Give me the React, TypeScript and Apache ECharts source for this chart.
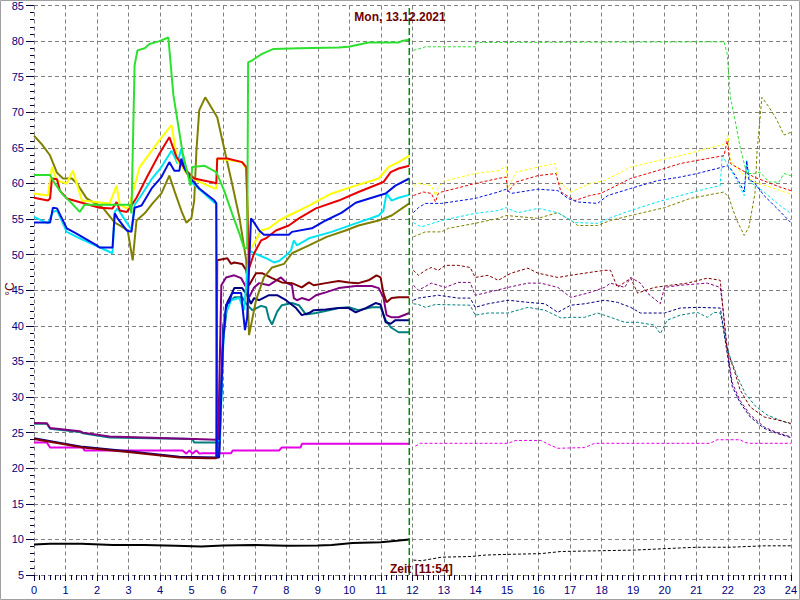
import React, { useEffect, useRef } from "react";
import * as echarts from "echarts";

type P = [number, number];

const chartTitle = "Mon, 13.12.2021";
const timeLabel = "Zeit [11:54]";
const unitLabel = "°C";
const nowHour = 11.9;
const yMin = 5;
const yMax = 85;
const xMin = 0;
const xMax = 24;

// ---- today (solid, 0 .. 11:54) ----
const greenToday: P[] = [[0,61.2],[0.51,61.2],[0.66,60],[0.9,58.5],[1.2,57.2],[1.45,56],[1.6,57],[2.5,57],[3.03,57],[3.09,55.8],[3.19,76.6],[3.28,78.7],[3.51,79],[3.66,79.6],[3.98,80],[4.26,80.5],[4.42,72.4],[4.71,64.4],[4.96,59.7],[5.02,62.3],[5.4,62.5],[5.78,61.6],[6.03,59],[6.28,55.8],[6.51,53],[6.66,50.9],[6.76,50.9],[6.79,77],[6.92,77.3],[7.23,78.2],[7.6,78.9],[8.4,79],[9.66,79.1],[9.98,79.2],[10.61,79.8],[11.56,79.8],[11.66,80],[11.9,80.2]];
const yellowToday: P[] = [[0,58.6],[0.44,58.3],[0.57,62.3],[0.73,60.4],[1.04,60],[1.23,61.8],[1.52,57.6],[2.4,57.2],[2.62,59.7],[2.72,57],[2.94,56.5],[3.03,57],[3.09,58],[3.35,62.3],[3.98,66.1],[4.36,68.2],[4.55,63.2],[4.83,61.4],[5.15,60.4],[5.72,59.3],[5.78,59.3],[5.81,63.5],[6.6,63],[6.73,62],[6.82,50.5],[6.98,51.6],[7.2,53.4],[7.45,53.7],[7.77,54.8],[8.08,55.5],[8.72,56.9],[9.44,58.6],[10.2,59.7],[10.93,60.7],[11.24,62.3],[11.56,63],[11.9,63.9]];
const redToday: P[] = [[0,58],[0.44,57.6],[0.51,57.9],[0.57,60.7],[0.73,60.6],[0.82,59],[1.04,57.9],[2.08,56.6],[2.49,56.5],[2.62,57.4],[2.72,56.2],[2.94,56],[3.03,56.5],[3.25,58],[3.57,60.8],[3.98,64.2],[4.29,66.5],[4.52,63.7],[4.83,61.8],[5.08,60.7],[5.72,60.1],[5.78,60],[5.81,63.5],[6.13,63.5],[6.6,63],[6.73,62.3],[6.82,48.1],[6.98,50.2],[7.2,52],[7.36,52.3],[7.67,53.4],[8.08,54.1],[8.4,55.1],[8.94,56.5],[9.66,57.6],[10.29,58.8],[11.08,60.2],[11.31,61.6],[11.56,62.1],[11.9,62.5]];
const blueToday: P[] = [[0,54.5],[0.51,54.5],[0.6,56.6],[0.73,56.5],[1.04,53.7],[1.29,53.1],[1.61,52.3],[1.99,51.3],[2.08,51],[2.49,51],[2.56,55.8],[2.65,55.1],[2.94,53.4],[3.09,53.2],[3.19,56.6],[3.41,56.9],[3.73,59.3],[4.04,60.9],[4.29,63],[4.45,61.8],[4.61,61.8],[4.67,63.5],[4.77,62.1],[4.93,60.9],[5.24,59.3],[5.72,57.6],[5.78,57.2],[5.8,21.6],[5.87,21.8],[6.0,38],[6.09,43],[6.19,43.3],[6.28,44.6],[6.57,44.6],[6.6,43.1],[6.69,39.4],[6.76,41.2],[6.88,55.1],[6.98,54.5],[7.14,53.4],[7.29,52.8],[8.08,52.8],[8.18,53.2],[8.81,53.7],[9.25,54.8],[9.76,55.9],[10.2,57.3],[10.71,58],[11.15,58.6],[11.46,59.7],[11.9,60.7]];
const cyanToday: P[] = [[0,55.3],[0.44,54.4],[0.6,56],[0.73,56.2],[1.04,53.2],[1.45,52.3],[2.49,50.2],[2.56,56],[2.65,56.5],[2.94,54.5],[3.09,53.5],[3.19,57],[3.35,58],[3.73,60.6],[4.04,62.3],[4.36,64.6],[4.45,63.8],[4.55,62.8],[4.67,64.9],[4.77,62.8],[4.99,60.2],[5.34,58.8],[5.72,57.3],[5.78,57.3],[5.8,23.6],[5.9,24],[6.03,41.1],[6.25,43.6],[6.51,43.9],[6.66,42.2],[6.82,50.6],[6.98,50.2],[7.36,49.5],[7.61,48.9],[7.77,49.1],[7.99,49.9],[8.15,50.6],[8.24,52],[8.34,51.3],[8.72,52.3],[9.44,53.2],[10.2,54.4],[10.93,55.5],[11.08,56.2],[11.18,58.6],[11.34,57.6],[11.56,58],[11.9,58.4]];
const oliveToday: P[] = [[0,66.7],[0.25,65.5],[0.5,64],[0.73,61.5],[0.92,60.7],[1.2,60.7],[1.36,60],[1.67,57.9],[1.86,57.4],[2.18,56.6],[2.56,54.5],[2.72,54.1],[2.97,53.4],[3.13,49.2],[3.25,54.8],[3.51,55.8],[3.76,57.2],[4.04,58.6],[4.29,61.1],[4.45,59],[4.67,56.2],[4.83,54.5],[4.99,55.1],[5.08,57.6],[5.15,64.6],[5.24,70.3],[5.43,72.1],[5.62,70.7],[5.81,69.3],[5.97,66.1],[6.28,60],[6.51,55.3],[6.73,49.2],[6.82,38.7],[7.04,43.6],[7.29,46.8],[7.55,48.2],[7.93,48.7],[8.18,50.2],[8.72,51.3],[9.28,52.5],[9.88,53.4],[10.29,54.1],[10.93,54.8],[11.34,55.5],[11.9,57.2]];
const maroonToday: P[] = [[0,24.1],[1.55,22.9],[3.13,22.2],[4.61,21.5],[5.5,21.4],[5.78,21.4],[5.81,49.2],[6.13,49.5],[6.25,48.7],[6.35,48.9],[6.6,48.7],[6.73,47.8],[6.82,45.7],[7.04,47.4],[7.23,47.4],[7.55,46.7],[7.86,46.1],[8.18,46],[8.49,45.4],[8.72,46.1],[8.87,45.7],[9.25,46],[9.66,46.3],[9.98,46.1],[10.29,46],[10.61,46.4],[10.86,47.1],[10.99,46.8],[11.08,44.6],[11.18,43.3],[11.34,43.9],[11.56,44],[11.9,44]];
const purpleToday: P[] = [[0,26.35],[0.41,26.3],[0.51,25.65],[1.45,25.2],[1.55,25.0],[2.4,24.45],[5.08,24.1],[5.78,24.0],[5.84,24.0],[5.94,45.7],[6.09,46.8],[6.35,47.1],[6.57,46.7],[6.73,45.4],[6.82,44],[6.98,45.4],[7.14,46],[7.45,45.7],[7.55,46],[7.83,46.8],[8.02,46],[8.18,45.7],[8.24,43.9],[8.34,43.6],[8.49,43.9],[8.72,43.6],[8.94,44.3],[9.25,44.7],[9.66,45.3],[10.2,45.6],[10.71,45.6],[10.93,45.3],[11.08,44],[11.18,41.5],[11.34,41.2],[11.56,41.2],[11.9,41.8]];
const navyToday: P[] = [[0,24.2],[1.55,23.0],[3.13,22.3],[4.61,21.6],[5.78,21.5],[5.87,21.5],[6.0,40],[6.13,43.3],[6.28,44.6],[6.35,45.3],[6.6,45.3],[6.76,44.3],[6.88,43.1],[6.98,43.9],[7.14,43.6],[7.45,44.3],[7.71,44.3],[7.99,43.6],[8.31,42.5],[8.49,41.5],[8.72,41.8],[8.87,42.2],[9.25,42.3],[9.66,42.5],[9.98,42.5],[10.2,41.9],[10.52,42.5],[10.83,43.2],[10.99,43],[11.15,40.5],[11.31,40.3],[11.46,40.8],[11.9,40.8]];
const tealToday: P[] = [[0,26.25],[0.41,26.25],[0.51,25.55],[1.45,25.1],[1.55,24.9],[2.4,24.3],[5.02,24.1],[5.08,23.6],[5.78,23.6],[5.87,23.6],[6.0,38],[6.13,43.1],[6.35,44],[6.6,44],[6.73,43.1],[6.92,42.2],[7.2,42.8],[7.36,42.6],[7.45,41],[7.55,40.2],[7.71,42],[7.86,42.9],[8.18,43.2],[8.4,42.9],[8.62,41.6],[8.94,41.8],[9.35,42.2],[9.66,42.5],[9.98,42.6],[10.29,42.2],[10.71,42.6],[10.99,42.6],[11.15,40.8],[11.31,39.8],[11.56,39.1],[11.9,39.1]];
const magentaToday: P[] = [[0,23.6],[0.41,23.6],[0.51,22.9],[1.55,22.9],[1.6,22.5],[4.71,22.5],[4.83,22.05],[4.93,22.5],[5.02,22.05],[5.15,22.5],[5.24,22.05],[5.34,22.1],[6.25,22.1],[6.3,22.5],[7.77,22.5],[7.86,22.9],[8.45,22.9],[8.5,23.45],[11.9,23.45]];
const blackToday: P[] = [[0,9.3],[0.5,9.4],[1.5,9.4],[2.5,9.2],[3.5,9.2],[4.5,9.1],[5.3,9.0],[6,9.15],[7,9.2],[8,9.1],[9,9.15],[9.44,9.2],[10.1,9.5],[11.0,9.6],[11.5,9.8],[11.9,10.0]];

// ---- previous values (dashed, 12 .. 24) ----
const greenPrev: P[] = [[12.03,78.7],[12.28,79],[12.41,79.2],[13.99,79.2],[14.02,79.8],[21.88,79.9],[21.98,78.2],[22.08,72.1],[22.23,68.9],[22.39,65.1],[22.6,61.4],[22.83,61.4],[23.02,61.6],[23.31,60.2],[23.62,60.2],[23.78,61.4],[24,61.1]];
const yellowPrev: P[] = [[12.03,59.7],[12.19,60],[12.6,59.7],[12.73,58.3],[12.82,59.5],[12.98,60.3],[13.99,61.4],[14.72,61.8],[14.97,62.4],[15.03,59.3],[15.28,61.6],[15.98,62.3],[16.52,62.8],[16.61,60.4],[17.02,58.8],[17.65,60],[18.09,60.4],[18.92,62.3],[19.77,63.2],[20.49,63.9],[21.35,64.9],[21.88,65.5],[22.01,66.8],[22.04,65.1],[22.08,63.2],[22.52,61.1],[22.83,60.2],[23.34,59.5],[24,58.5]];
const redPrev: P[] = [[12.03,58.3],[12.35,58.8],[12.6,58.6],[12.73,57.4],[12.82,58.6],[12.92,58.8],[13.99,60],[14.72,60.7],[14.97,60.9],[15.03,58.8],[15.28,60.2],[15.98,61.1],[16.55,61.4],[16.71,58.8],[17.15,57.6],[17.62,58.3],[17.97,58.6],[18.92,60.7],[19.77,61.8],[20.49,62.8],[21.35,63.5],[21.88,63.9],[21.98,66],[22.08,62.8],[22.83,60.9],[23.65,59.5],[24,59]];
const bluePrev: P[] = [[12.03,55.9],[12.19,56.6],[12.41,57.2],[12.92,57.2],[13.99,57.9],[14.72,58.8],[14.97,59.2],[15.13,58.6],[15.98,59.2],[16.61,59],[16.93,57.9],[17.24,57.4],[17.87,57.2],[18.19,58.3],[18.92,59.3],[19.77,60.4],[20.49,60.9],[21.03,61.4],[21.66,62.1],[21.98,62.5],[22.14,61.8],[22.36,60.2],[22.52,58.8],[22.6,63.2],[22.67,60.5],[22.83,60.2],[23.15,58.3],[23.56,56.5],[24,54.5]];
const cyanPrev: P[] = [[12.03,54.5],[12.28,53.9],[12.92,54.8],[13.99,55.8],[14.72,56.2],[14.97,56.6],[15.35,55.9],[15.98,56.5],[16.61,55.9],[17.15,54.5],[17.87,54.4],[18.28,55.2],[18.92,56.2],[19.77,57.4],[20.49,58.3],[21.35,59.3],[21.76,59.7],[21.82,63.9],[21.98,62.8],[22.29,60.4],[22.52,58.3],[22.6,63.2],[22.71,60.2],[23.15,58.8],[23.65,56.9],[24,55.8]];
const olivePrev: P[] = [[12.03,52.5],[12.41,53.2],[12.92,53.2],[13.14,53.7],[13.99,54.4],[14.72,55.1],[14.97,55.5],[15.98,55.1],[16.61,55.9],[17.02,54.8],[17.24,54.1],[17.87,54.1],[18.28,54.8],[18.92,55.5],[19.99,56.6],[20.81,57.9],[21.88,58.8],[22.04,58],[22.14,56.6],[22.29,54.8],[22.52,52.7],[22.67,53.9],[22.86,58.6],[22.93,64.6],[23.08,72.1],[23.31,70.7],[23.56,68.9],[23.78,66.8],[24,67.2]];
const maroonPrev: P[] = [[12.03,47.8],[12.19,47.1],[12.41,47.8],[12.6,48.2],[12.82,47.8],[13.04,48.5],[13.45,48.5],[13.83,48.2],[13.99,46.8],[14.4,47.1],[14.72,46.4],[15.13,47.4],[15.66,48.1],[15.98,47.4],[16.61,46.8],[17.02,47.1],[17.46,47.4],[18.09,47.8],[18.28,47.8],[18.5,45.4],[18.92,46.7],[19.14,44.6],[19.67,45.4],[20.18,45.7],[20.72,46],[21.35,46.7],[21.76,46.4],[21.82,43.6],[21.98,36.6],[22.2,33.8],[22.39,31],[22.71,28.6],[23.15,27.2],[23.56,26.8],[24,26.3]];
const purplePrev: P[] = [[12.03,45.7],[12.19,45],[12.6,46],[13.04,45.4],[13.45,46.1],[13.83,46.1],[13.99,44.3],[14.4,44.7],[15.03,45.4],[15.66,46],[16.07,46],[16.61,45.4],[17.02,44],[17.56,44.6],[18.09,45.4],[18.28,46],[18.73,45.4],[18.92,46.8],[19.23,46],[19.45,44.6],[19.86,43.1],[19.99,45.4],[20.49,45.7],[21.35,46],[21.76,45.4],[21.82,43.5],[21.95,38],[22.04,35],[22.14,32],[22.39,29.5],[22.71,27.5],[23.15,25.8],[23.56,25],[24,24.4]];
const navyPrev: P[] = [[12.03,43.6],[12.19,43.9],[12.82,44.3],[13.45,43.9],[13.83,43.9],[13.99,42.6],[14.4,43.1],[15.03,43.6],[15.66,43.3],[16.2,43.1],[16.61,41.9],[17.02,42.9],[17.46,43.1],[18.09,43.6],[18.5,43.3],[18.92,42.6],[19.23,41.8],[19.99,41.8],[20.49,42.5],[21.03,42.6],[21.76,42.5],[21.82,41],[21.95,37],[22.04,34.5],[22.14,31.5],[22.39,29.2],[22.71,27.2],[23.15,25.6],[23.56,24.9],[24,24.3]];
const tealPrev: P[] = [[12.03,43.1],[12.19,43],[12.41,42.6],[12.73,43],[13.83,42.9],[13.99,41.5],[14.4,41.8],[15.03,41.8],[15.66,42.6],[16.2,42.2],[16.71,41.1],[17.02,41.2],[17.46,41.2],[17.87,41.8],[18.28,41.2],[18.73,40.5],[19.14,40.5],[19.67,40.1],[19.86,38.9],[20.08,40.8],[20.49,41.5],[21.03,41.9],[21.35,41.2],[21.57,41.9],[21.76,41.8],[21.82,40.5],[21.92,38],[22.04,36],[22.29,33],[22.55,30.5],[22.86,28.8],[23.24,27.5],[23.62,26.8],[24,26.2]];
const magentaPrev: P[] = [[12.09,23.1],[12.25,23.5],[15.03,23.5],[15.28,23.9],[16.07,23.9],[16.39,23.2],[16.61,22.8],[17.46,22.9],[17.78,23.5],[21.44,23.5],[21.66,24],[22.39,24],[22.55,23.6],[22.71,23.5],[24,23.5]];
const blackPrev: P[] = [[12.03,7.1],[12.28,7.0],[12.92,7.5],[13.86,7.6],[14.31,7.8],[15.03,7.9],[16.07,8.0],[16.71,8.3],[17.87,8.4],[19.04,8.5],[20.49,8.8],[21.03,8.9],[22.08,8.9],[23.15,9.1],[24,9.1]];

const channels = [
  { name: "black", color: "#000000", today: blackToday, prev: blackPrev },
  { name: "magenta", color: "#e600e6", today: magentaToday, prev: magentaPrev },
  { name: "teal", color: "#008080", today: tealToday, prev: tealPrev },
  { name: "navy", color: "#000080", today: navyToday, prev: navyPrev },
  { name: "purple", color: "#800080", today: purpleToday, prev: purplePrev },
  { name: "maroon", color: "#800000", today: maroonToday, prev: maroonPrev },
  { name: "olive", color: "#808000", today: oliveToday, prev: olivePrev },
  { name: "cyan", color: "#00e4f4", today: cyanToday, prev: cyanPrev },
  { name: "yellow", color: "#ffff00", today: yellowToday, prev: yellowPrev },
  { name: "red", color: "#e80000", today: redToday, prev: redPrev },
  { name: "blue", color: "#0010e0", today: blueToday, prev: bluePrev },
  { name: "green", color: "#2ee02e", today: greenToday, prev: greenPrev },
];

const nowLine: P[] = [[nowHour, yMin], [nowHour, yMax]];

const FONT = '"Liberation Sans", Arial, sans-serif';
const TEXT_RED = "#6e0000";
const AXIS_BLUE = "#000080";

export default function App() {
  const ref = useRef<HTMLDivElement>(null);
  useEffect(() => {
    if (!ref.current) return;
    const chart = echarts.init(ref.current, undefined, { renderer: "svg" });
    const series: any[] = [];
    channels.forEach((c) => {
      series.push({
        type: "line",
        name: c.name + "-prev",
        data: c.prev,
        showSymbol: false,
        symbol: "none",
        lineStyle: { color: c.color, width: 1, type: [3, 2] },
        z: 2,
      });
    });
    channels.forEach((c) => {
      series.push({
        type: "line",
        name: c.name,
        data: c.today,
        showSymbol: false,
        symbol: "none",
        lineStyle: { color: c.color, width: 2 },
        z: 3,
      });
    });
    series.push({
      type: "line",
      name: "now",
      data: nowLine,
      showSymbol: false,
      symbol: "none",
      lineStyle: { color: "#008a00", width: 1.5, type: [7, 3] },
      z: 4,
    });

    chart.setOption({
      animation: false,
      backgroundColor: "#ffffff",
      grid: { left: 34, right: 6, top: 5, bottom: 25, containLabel: false },
      xAxis: {
        type: "value",
        min: xMin,
        max: xMax,
        interval: 1,
        axisLine: { show: false },
        axisTick: { show: true, length: 6, lineStyle: { color: "#000040" } },
        minorTick: { show: true, splitNumber: 6, length: 5, lineStyle: { color: "#000040" } },
        axisLabel: { color: AXIS_BLUE, fontSize: 11, fontFamily: FONT, margin: 9 },
        splitLine: { show: true, lineStyle: { color: "#808080", type: [4, 3], width: 1 } },
      },
      yAxis: {
        type: "value",
        min: yMin,
        max: yMax,
        interval: 5,
        axisLine: { show: false },
        axisTick: { show: true, length: 8, lineStyle: { color: "#000040" } },
        minorTick: { show: true, splitNumber: 5, length: 4, lineStyle: { color: "#000040" } },
        axisLabel: { color: AXIS_BLUE, fontSize: 11, fontFamily: FONT, margin: 10 },
        splitLine: { show: true, lineStyle: { color: "#808080", type: [4, 3], width: 1 } },
      },
      graphic: [
        {
          type: "rect",
          shape: { x: 0.5, y: 0.5, width: 799, height: 599 },
          style: { fill: "none", stroke: "#a0a0a0", lineWidth: 1 },
          z: 100,
          silent: true,
        },
        {
          type: "text",
          x: 400,
          y: 17,
          style: { text: chartTitle, fill: TEXT_RED, font: "bold 12px " + FONT, textAlign: "center", textVerticalAlign: "middle" },
          z: 100,
        },
        {
          type: "text",
          x: 390,
          y: 569,
          style: { text: timeLabel, fill: TEXT_RED, font: "bold 12px " + FONT, textAlign: "left", textVerticalAlign: "middle" },
          z: 100,
        },
        {
          type: "text",
          x: 10,
          y: 289,
          rotation: Math.PI / 2,
          style: { text: unitLabel, fill: TEXT_RED, font: "12px " + FONT, textAlign: "center", textVerticalAlign: "middle" },
          z: 100,
        },
      ],
      series,
    });
    return () => chart.dispose();
  }, []);
  return (
    <div
      ref={ref}
      style={{ position: "fixed", left: 0, top: 0, width: 800, height: 600, background: "#fff" }}
    />
  );
}
